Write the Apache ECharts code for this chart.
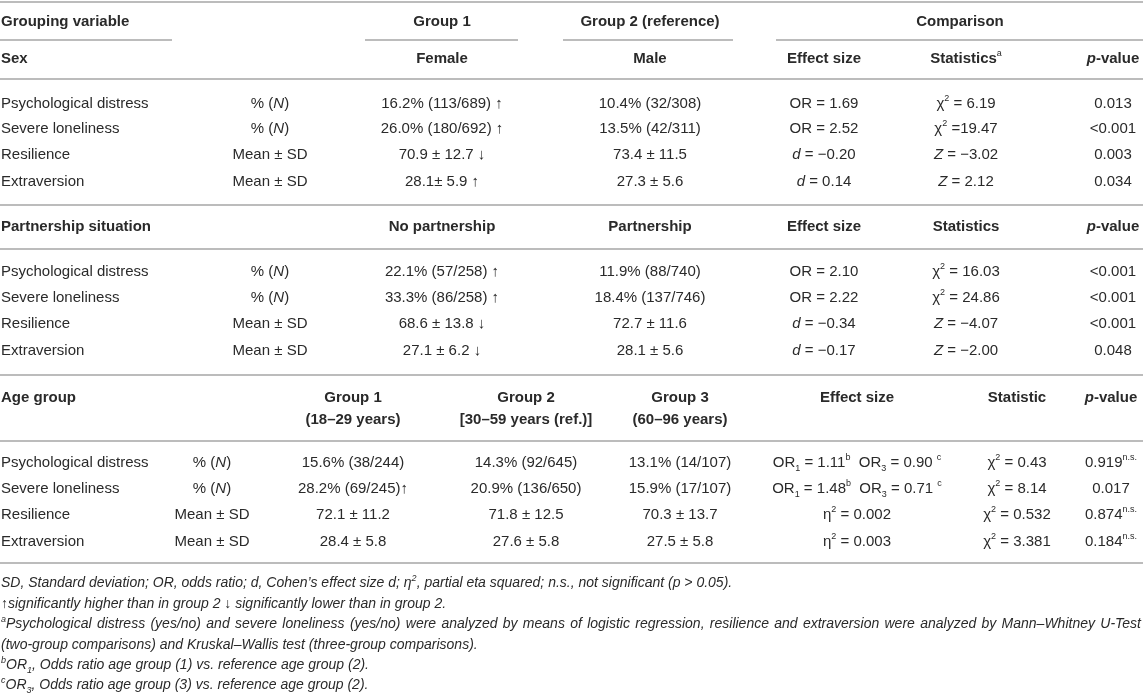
<!DOCTYPE html>
<html>
<head>
<meta charset="utf-8">
<script src="https://cdn.jsdelivr.net/npm/echarts@6/dist/echarts.min.js"></script>
<style>
  html, body { margin: 0; padding: 0; background: #fff; }
  #main { width: 1143px; height: 694px; }
</style>
</head>
<body>
<div id="main"></div>
<script>
const FONT = '"Liberation Sans", Arial, Helvetica, sans-serif';
const INK = '#2a2a2a';
const RULE = '#bcbcbc';

// ---- table text ----
const variables = ['Psychological distress', 'Severe loneliness', 'Resilience', 'Extraversion'];
const measures = ['% ({i|N})', '% ({i|N})', 'Mean ± SD', 'Mean ± SD'];

const topHeader = ['Grouping variable', 'Group 1', 'Group 2 (reference)', 'Comparison'];

const sexHeader = ['Sex', 'Female', 'Male', 'Effect size', 'Statistics{sup|a}', '{bi|p}-value'];
const sexGroup1 = ['16.2% (113/689) ↑', '26.0% (180/692) ↑', '70.9 ± 12.7 ↓', '28.1± 5.9 ↑'];
const sexGroup2 = ['10.4% (32/308)', '13.5% (42/311)', '73.4 ± 11.5', '27.3 ± 5.6'];
const sexEffect = ['OR = 1.69', 'OR = 2.52', '{i|d} = −0.20', '{i|d} = 0.14'];
const sexStat = ['χ{sup|2} = 6.19', 'χ{sup|2} =19.47', '{i|Z} = −3.02', '{i|Z} = 2.12'];
const sexP = ['0.013', '<0.001', '0.003', '0.034'];

const partHeader = ['Partnership situation', 'No partnership', 'Partnership', 'Effect size', 'Statistics', '{bi|p}-value'];
const partGroup1 = ['22.1% (57/258) ↑', '33.3% (86/258) ↑', '68.6 ± 13.8 ↓', '27.1 ± 6.2 ↓'];
const partGroup2 = ['11.9% (88/740)', '18.4% (137/746)', '72.7 ± 11.6', '28.1 ± 5.6'];
const partEffect = ['OR = 2.10', 'OR = 2.22', '{i|d} = −0.34', '{i|d} = −0.17'];
const partStat = ['χ{sup|2} = 16.03', 'χ{sup|2} = 24.86', '{i|Z} = −4.07', '{i|Z} = −2.00'];
const partP = ['<0.001', '<0.001', '<0.001', '0.048'];

const ageHeader = ['Age group', 'Group 1', 'Group 2', 'Group 3', 'Effect size', 'Statistic', '{bi|p}-value'];
const ageHeaderSub = ['(18–29 years)', '[30–59 years (ref.)]', '(60–96 years)'];
const ageGroup1 = ['15.6% (38/244)', '28.2% (69/245)↑', '72.1 ± 11.2', '28.4 ± 5.8'];
const ageGroup2 = ['14.3% (92/645)', '20.9% (136/650)', '71.8 ± 12.5', '27.6 ± 5.8'];
const ageGroup3 = ['13.1% (14/107)', '15.9% (17/107)', '70.3 ± 13.7', '27.5 ± 5.8'];
const ageEffect = [
  'OR{sub|1} = 1.11{sup|b}  OR{sub|3} = 0.90 {sup|c}',
  'OR{sub|1} = 1.48{sup|b}  OR{sub|3} = 0.71 {sup|c}',
  'η{sup|2} = 0.002',
  'η{sup|2} = 0.003'
];
const ageStat = ['χ{sup|2} = 0.43', 'χ{sup|2} = 8.14', 'χ{sup|2} = 0.532', 'χ{sup|2} = 3.381'];
const ageP = ['0.919{sup|n.s.}', '0.017', '0.874{sup|n.s.}', '0.184{sup|n.s.}'];

const footnotes = [
  'SD, Standard deviation; OR, odds ratio; d, Cohen’s effect size d; η{sup|2}, partial eta squared; n.s., not significant (p > 0.05).',
  '↑significantly higher than in group 2 ↓ significantly lower than in group 2.',
  '{sup|a}Psychological distress (yes/no) and severe loneliness (yes/no) were analyzed by means of logistic regression, resilience and extraversion were analyzed by Mann–Whitney U-Test',
  '(two-group comparisons) and Kruskal–Wallis test (three-group comparisons).',
  '{sup|b}OR{sub|1}, Odds ratio age group (1) vs. reference age group (2).',
  '{sup|c}OR{sub|3}, Odds ratio age group (3) vs. reference age group (2).'
];

// ---- layout (pixel units of the hidden axes) ----
const colTwo = { label: 1, measure: 270, g1: 442, g2: 650, eff: 824, stat: 966, p: 1113 };
const colAge = { label: 1, measure: 212, g1: 353, g2: 526, g3: 680, eff: 857, stat: 1017, p: 1111 };
const comparisonX = 960;
const rowSex = { head1: 22, head2: 59, rows: [104, 129, 155, 182] };
const rowPart = { head: 227, rows: [272, 298, 324, 351] };
const rowAge = { head: 398, head2: 420, rows: [463, 489, 515, 542] };
const noteSize = 14;
const noteY = [583, 604, 624, 645, 665, 685];
const noteJustify = [false, false, true, false, false, false];
const noteRight = 1141;
const rules = [
  [0, 1143, 2], [0, 172, 40], [365, 518, 40], [563, 733, 40], [776, 1143, 40],
  [0, 1143, 79], [0, 1143, 205], [0, 1143, 249], [0, 1143, 375],
  [0, 1143, 441], [0, 1143, 563]
];

function richSet(size, italic) {
  const base = { fontFamily: FONT, fill: INK, fontSize: size, fontStyle: italic ? 'italic' : 'normal' };
  const small = Math.round(size * 0.62);
  return {
    i: Object.assign({}, base, { fontStyle: 'italic' }),
    bi: Object.assign({}, base, { fontStyle: 'italic', fontWeight: 'bold' }),
    sup: Object.assign({}, base, { fontSize: small, verticalAlign: 'top', padding: [-2, 0, 0, 0] }),
    sub: Object.assign({}, base, { fontSize: small, verticalAlign: 'bottom', padding: [0, 0, -3, 0] })
  };
}
const RICH_TABLE = richSet(15, false);
const RICH_NOTE = richSet(noteSize, true);

const cells = [];
function put(x, y, text, opt) {
  cells.push(Object.assign({ x: x, y: y, text: text, align: 'center', size: 15, bold: false, italic: false }, opt || {}));
}
const bold = { bold: true };
const boldLeft = { bold: true, align: 'left' };
const left = { align: 'left' };

// section 1: sex
put(colTwo.label, rowSex.head1, topHeader[0], boldLeft);
put(colTwo.g1, rowSex.head1, topHeader[1], bold);
put(colTwo.g2, rowSex.head1, topHeader[2], bold);
put(comparisonX, rowSex.head1, topHeader[3], bold);

function twoGroupSection(header, headY, rowsY, g1, g2, eff, stat, pv) {
  const keys = ['label', 'g1', 'g2', 'eff', 'stat', 'p'];
  header.forEach((h, k) => put(colTwo[keys[k]], headY, h, k === 0 ? boldLeft : bold));
  rowsY.forEach((y, r) => {
    put(colTwo.label, y, variables[r], left);
    put(colTwo.measure, y, measures[r]);
    put(colTwo.g1, y, g1[r]);
    put(colTwo.g2, y, g2[r]);
    put(colTwo.eff, y, eff[r]);
    put(colTwo.stat, y, stat[r]);
    put(colTwo.p, y, pv[r]);
  });
}
twoGroupSection(sexHeader, rowSex.head2, rowSex.rows, sexGroup1, sexGroup2, sexEffect, sexStat, sexP);
twoGroupSection(partHeader, rowPart.head, rowPart.rows, partGroup1, partGroup2, partEffect, partStat, partP);

// section 3: age
const ageKeys = ['label', 'g1', 'g2', 'g3', 'eff', 'stat', 'p'];
ageHeader.forEach((h, k) => put(colAge[ageKeys[k]], rowAge.head, h, k === 0 ? boldLeft : bold));
ageHeaderSub.forEach((h, k) => put(colAge[ageKeys[k + 1]], rowAge.head2, h, bold));
rowAge.rows.forEach((y, r) => {
  put(colAge.label, y, variables[r], left);
  put(colAge.measure, y, measures[r]);
  put(colAge.g1, y, ageGroup1[r]);
  put(colAge.g2, y, ageGroup2[r]);
  put(colAge.g3, y, ageGroup3[r]);
  put(colAge.eff, y, ageEffect[r]);
  put(colAge.stat, y, ageStat[r]);
  put(colAge.p, y, ageP[r]);
});

// footnotes (one justified line is laid out word by word)
const ctx = document.createElement('canvas').getContext('2d');
function richWidth(str, rich, baseSize) {
  let w = 0;
  const re = /\{(\w+)\|([^}]*)\}/g;
  let last = 0, m;
  const seg = (s, st) => {
    ctx.font = 'italic ' + (st.fontWeight || 'normal') + ' ' + st.fontSize + 'px ' + FONT;
    w += ctx.measureText(s).width;
  };
  while ((m = re.exec(str))) {
    if (m.index > last) seg(str.slice(last, m.index), { fontSize: baseSize });
    seg(m[2], rich[m[1]]);
    last = re.lastIndex;
  }
  if (last < str.length) seg(str.slice(last), { fontSize: baseSize });
  return w;
}
footnotes.forEach((line, k) => {
  const noteOpt = { align: 'left', size: noteSize, italic: true };
  if (!noteJustify[k]) {
    put(1, noteY[k], line, noteOpt);
    return;
  }
  const words = line.split(' ');
  const widths = words.map(w => richWidth(w, RICH_NOTE, noteSize));
  const total = widths.reduce((a, b) => a + b, 0);
  const gap = (noteRight - 1 - total) / (words.length - 1);
  let x = 1;
  words.forEach((w, i) => {
    put(x, noteY[k], w, noteOpt);
    x += widths[i] + gap;
  });
});

const chart = echarts.init(document.getElementById('main'));
chart.setOption({
  animation: false,
  grid: { left: 0, right: 0, top: 0, bottom: 0 },
  xAxis: { type: 'value', min: 0, max: 1143, show: false },
  yAxis: { type: 'value', min: 0, max: 694, inverse: true, show: false },
  series: [
    {
      type: 'custom',
      name: 'rules',
      clip: false,
      silent: true,
      encode: { x: [0, 1], y: 2 },
      data: rules,
      renderItem: function (params, api) {
        const a = api.coord([api.value(0), api.value(2)]);
        const b = api.coord([api.value(1), api.value(2)]);
        return {
          type: 'line',
          shape: { x1: a[0], y1: a[1], x2: b[0], y2: b[1] },
          style: { stroke: RULE, lineWidth: 2 }
        };
      }
    },
    {
      type: 'custom',
      name: 'cells',
      clip: false,
      silent: true,
      encode: { x: 0, y: 1 },
      data: cells.map((c, i) => [c.x, c.y, i]),
      renderItem: function (params, api) {
        const c = cells[api.value(2)];
        const p = api.coord([api.value(0), api.value(1)]);
        return {
          type: 'text',
          x: p[0],
          y: p[1],
          style: {
            text: c.text,
            fill: INK,
            fontFamily: FONT,
            fontSize: c.size,
            fontWeight: c.bold ? 'bold' : 'normal',
            fontStyle: c.italic ? 'italic' : 'normal',
            align: c.align,
            verticalAlign: 'middle',
            rich: c.size === noteSize ? RICH_NOTE : RICH_TABLE
          }
        };
      }
    }
  ]
});
</script>
</body>
</html>
